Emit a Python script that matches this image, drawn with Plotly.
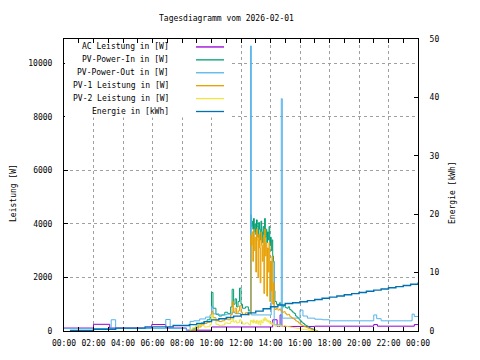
import plotly.graph_objects as go

# ---------------- data ----------------
hour_ticks = [0, 2, 4, 6, 8, 10, 12, 14, 16, 18, 20, 22, 24]
hour_labels = ["00:00", "02:00", "04:00", "06:00", "08:00", "10:00", "12:00",
               "14:00", "16:00", "18:00", "20:00", "22:00", "00:00"]
power_ticks = [0, 2000, 4000, 6000, 8000, 10000]
energy_ticks = [0, 10, 20, 30, 40, 50]

ac_time = [0.0, 2.0, 3.1, 5.95, 6.9, 8.3, 10.0, 14.15, 14.45, 14.65, 14.77,
           17.0, 21.0, 21.25, 23.75, 24.0]
ac_power = [110, 250, 110, 240, 110, 30, 150, 420, 170, 600, 170,
            180, 240, 180, 240, 240]

pv_time = [8.5, 8.7, 8.9, 9.1, 9.3, 9.5, 9.7, 9.9, 10.0, 10.1, 10.3, 10.5, 10.7,
           10.9, 11.1, 11.3, 11.4, 11.5, 11.6, 11.7, 11.8, 11.9, 12.0, 12.1,
           12.3, 12.5, 12.6,
           12.65, 12.70, 12.75, 12.80, 12.85, 12.90, 12.95, 13.00, 13.05, 13.10,
           13.15, 13.20, 13.25, 13.30, 13.35, 13.40, 13.45, 13.50, 13.55, 13.60,
           13.65, 13.70, 13.75, 13.80, 13.85, 13.90, 13.95, 14.00, 14.05, 14.10,
           14.15, 14.20, 14.25, 14.30,
           14.4, 14.5, 14.6, 14.7, 14.8, 14.9, 15.0, 15.1, 15.2, 15.3, 15.4,
           15.5, 15.6, 15.7, 15.8, 15.9, 16.0, 16.1, 16.2, 16.3, 16.4, 16.5,
           16.6, 16.7, 16.8, 16.9, 17.0, 17.1, 17.2]

pv_in = [30, 80, 150, 230, 300, 350, 420, 500, 1440, 850, 620, 560, 600, 700,
         650, 900, 1560, 1000, 1200, 900, 1100, 1600, 1000, 850, 900, 750, 800,
         4330, 3900, 4100, 3800, 4200, 3700, 4000, 3600, 4150, 3900, 3500, 4050,
         3800, 3400, 4100, 3700, 3300, 3900, 3600, 4200, 3500, 3800, 3300, 3700,
         3400, 3900, 3200, 3500, 3000, 3400, 2800, 2600, 1500, 1100,
         1000, 980, 1050, 950, 900, 950, 880, 850, 900, 800, 750, 700, 650, 560,
         500, 450, 380, 330, 280, 230, 200, 160, 130, 100, 80, 50, 30, 10, 0]

pv1_power = [0, 0, 60, 150, 230, 280, 330, 360, 730, 500, 380, 350, 380, 450,
             420, 600, 1100, 700, 850, 650, 750, 940, 700, 620, 680, 600, 650,
             3570, 3200, 3700, 2600, 3800, 3000, 3500, 2200, 3800, 3400, 2000,
             3600, 3100, 1800, 3700, 3200, 2600, 3500, 1400, 3800, 2800, 3300,
             1300, 3100, 2200, 3300, 1100, 2600, 1500, 2800, 1000, 1800, 900, 800,
             850, 780, 820, 750, 700, 720, 650, 600, 620, 550, 500, 470, 430, 380,
             350, 300, 250, 220, 190, 160, 140, 110, 90, 70, 50, 30, 20, 5, 0]

pv2_power = [50, 120, 180, 230, 200, 150, 160, 250, 600, 450, 250, 200, 220, 300,
             280, 350, 450, 330, 380, 300, 320, 420, 350, 260, 300, 250, 220,
             400, 350, 380, 300, 420, 330, 360, 280, 400, 350, 250, 380, 320, 220,
             400, 330, 300, 450, 380, 500, 400, 450, 350, 400, 330, 380, 280, 320,
             250, 300, 230, 250, 200, 180,
             200, 180, 220, 190, 170, 200, 180, 170, 160, 150, 140, 130, 120, 110,
             100, 90, 80, 70, 60, 60, 50, 40, 30, 20, 15, 10, 5, 0, 0]

out_time = [0.0, 0.4, 3.2, 3.5, 6.9, 7.2, 8.3, 8.55, 8.8, 9.2, 9.6, 9.9, 10.0,
            10.1, 10.5, 11.0, 11.4, 11.6, 12.0, 12.4, 12.65, 12.7, 14.05, 14.25,
            14.73, 14.8, 16.0, 16.2, 16.5, 17.0, 17.5, 18.0, 21.0, 21.2, 21.5,
            23.6, 23.75, 24.0]
out_power = [90, 90, 420, 90, 430, 90, 0, 360, 380, 450, 520, 600, 920, 640, 600,
             630, 700, 650, 620, 640, 10640, 600, 2580, 230, 8670, 480, 780, 560,
             480, 440, 420, 380, 600, 460, 380, 630, 540, 540]

e_time = [0.4, 2.0, 3.5, 5.5, 7.4, 8.5, 9.0, 9.5, 10.0, 10.5, 11.0, 11.5, 12.0,
          12.5, 13.0, 13.5, 14.0, 14.5, 15.0, 15.5, 16.0, 16.5, 17.0, 17.5, 18.0,
          18.5, 19.0, 19.5, 20.0, 20.5, 21.0, 21.5, 22.0, 22.5, 23.0, 23.5, 24.0]
e_kwh = [0.1, 0.3, 0.5, 0.7, 0.95, 1.1, 1.3, 1.6, 1.9, 2.1, 2.3, 2.55, 2.8, 3.1,
         3.4, 3.8, 4.15, 4.45, 4.7, 4.85, 5.0, 5.2, 5.4, 5.6, 5.8, 6.0, 6.2, 6.4,
         6.6, 6.8, 7.0, 7.2, 7.4, 7.6, 7.8, 8.0, 8.3]

series_names = ["AC Leistung in [W]", "PV-Power-In in [W]", "PV-Power-Out in [W]",
                "PV-1 Leistung in [W]", "PV-2 Leistung in [W]", "Energie in [kWh]"]
series_colors = ["#9400d3", "#009e73", "#56b4e9", "#e69f00", "#f0e442", "#0072b2"]

# ---------------- figure ----------------
OFF = 8  # page body margin of the browser
FIG_W, FIG_H = 480 - OFF, 360 - OFF
L, R, T, B = 64, 418, 39, 333          # plot area in screen pixels
W_PLOT, H_PLOT = R - L, B - T


def px(x):
    return (x - L) / W_PLOT


def py(y):
    return (B - y) / H_PLOT


FONT = "DejaVu Sans Mono"
GRID = "#a0a0a0"
DASH = "3px,3px"

fig = go.Figure()
data = [(ac_time, ac_power, "y"), (pv_time, pv_in, "y"), (out_time, out_power, "y"),
        (pv_time, pv1_power, "y"), (pv_time, pv2_power, "y"), (e_time, e_kwh, "y2")]
for (t, v, ax), name, col in zip(data, series_names, series_colors):
    fig.add_trace(go.Scatter(x=t, y=v, name=name, mode="lines", yaxis=ax,
                             line=dict(color=col, width=1.4 if ax == "y2" else 1,
                                       shape="hv")))

axis_common = dict(showline=True, linecolor="black", linewidth=1, zeroline=False,
                   ticks="inside", ticklen=4, tickcolor="black",
                   tickfont=dict(family=FONT, size=8, color="black"))

fig.update_layout(
    width=FIG_W, height=FIG_H,
    margin=dict(l=L - OFF, r=FIG_W - (R - OFF), t=T - OFF, b=FIG_H - (B - OFF)),
    plot_bgcolor="white", paper_bgcolor="white",
    showlegend=False,
    font=dict(family=FONT, size=8, color="black"),
    xaxis=dict(range=[0, 24], tickvals=hour_ticks, ticktext=hour_labels,
               mirror="allticks", showgrid=True, gridcolor=GRID,
               griddash=DASH, gridwidth=1, ticklabelstandoff=4,
               minor=dict(dtick=1, tick0=0, ticks="inside", ticklen=2,
                          tickcolor="black", showgrid=False),
               **axis_common),
    yaxis=dict(range=[0, 10900], tickvals=power_ticks,
               ticktext=[str(v) for v in power_ticks],
               mirror=True, showgrid=True, gridcolor=GRID, griddash=DASH,
               gridwidth=1, ticklabelstandoff=9, **axis_common),
    yaxis2=dict(range=[0, 50], tickvals=energy_ticks,
                ticktext=[str(v) for v in energy_ticks],
                overlaying="y", side="right", showgrid=False,
                ticklabelstandoff=9, **axis_common),
)

# opaque key box (covers the grid behind the key)
fig.add_shape(type="rect", xref="paper", yref="paper", x0=px(65), x1=px(230),
              y0=py(118), y1=py(43), fillcolor="white", line=dict(width=0),
              layer="above")

rows = [47, 60, 73, 86, 99, 112]
for name, col, ry in zip(series_names, series_colors, rows):
    fig.add_annotation(xref="paper", yref="paper", x=px(171), y=py(ry),
                       text=name, showarrow=False, xanchor="right",
                       yanchor="middle", font=dict(family=FONT, size=8))
    fig.add_shape(type="line", xref="paper", yref="paper", x0=px(196), x1=px(224),
                  y0=py(ry), y1=py(ry), line=dict(color=col, width=1.3),
                  layer="above")

fig.add_annotation(xref="paper", yref="paper", x=px(226.5), y=py(18),
                   text="Tagesdiagramm vom 2026-02-01", showarrow=False,
                   xanchor="center", yanchor="middle", font=dict(family=FONT, size=8))
fig.add_annotation(xref="paper", yref="paper", x=px(14), y=py(194),
                   text="Leistung [W]", showarrow=False, textangle=-90,
                   xanchor="center", yanchor="middle", font=dict(family=FONT, size=8))
fig.add_annotation(xref="paper", yref="paper", x=px(453), y=py(194),
                   text="Energie [kWh]", showarrow=False, textangle=-90,
                   xanchor="center", yanchor="middle", font=dict(family=FONT, size=8))

fig.write_html("out.html")
